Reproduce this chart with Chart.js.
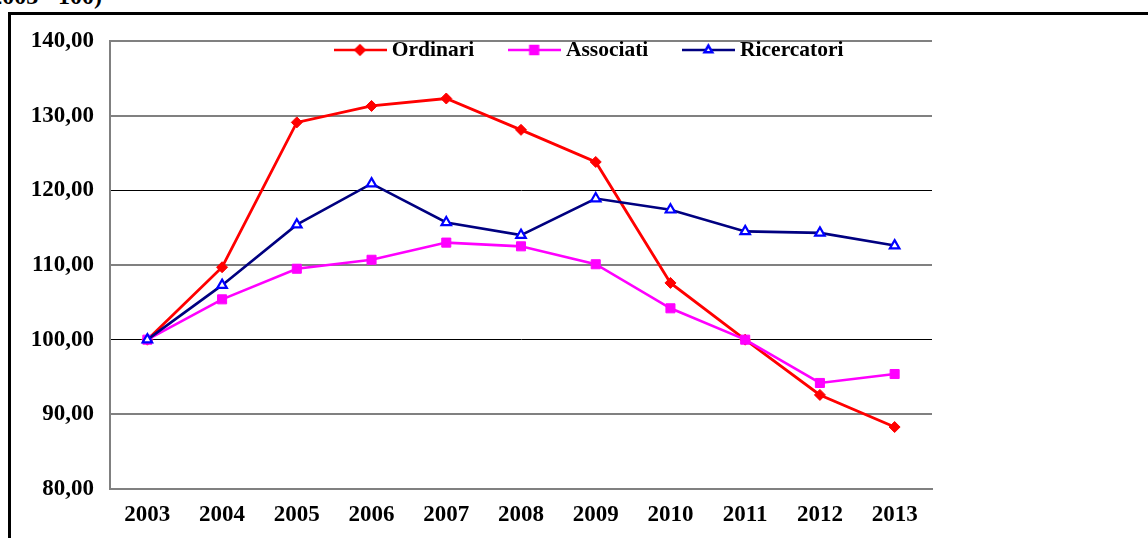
<!DOCTYPE html>
<html>
<head>
<meta charset="utf-8">
<script src="https://cdn.jsdelivr.net/npm/chart.js@4/dist/chart.umd.min.js"></script>
<style>
  html, body { margin: 0; padding: 0; background: #fff; width: 1148px; height: 538px; overflow: hidden; }
  #frame { position: absolute; left: 8px; top: 12px; width: 1200px; height: 600px;
           border-left: 3px solid #000; border-top: 3px solid #000; box-sizing: border-box; }
  #note { position: absolute; right: calc(1148px - 102px); top: -16px; white-space: nowrap;
          font: bold 24px "Liberation Serif", "Times New Roman", serif; color: #000; line-height: 24px; }
  #wrap { position: absolute; left: 0; top: 0; width: 1148px; height: 538px; }
</style>
</head>
<body>
<div id="frame"></div>
<div id="note">(2003= 100)</div>
<div id="wrap"><canvas id="c" width="1148" height="538"></canvas></div>
<script>
const years = ['2003','2004','2005','2006','2007','2008','2009','2010','2011','2012','2013'];
const ordinari    = [100, 109.7, 129.1, 131.3, 132.3, 128.1, 123.8, 107.6, 100, 92.6, 88.3];
const associati   = [100, 105.4, 109.5, 110.7, 113.0, 112.5, 110.1, 104.2, 100, 94.2, 95.4];
const ricercatori = [100, 107.3, 115.4, 120.9, 115.7, 114.0, 118.9, 117.4, 114.5, 114.3, 112.6];
const seriesNames = ['Ordinari', 'Associati', 'Ricercatori'];
const yTicksMin = 80, yTicksMax = 140, yStep = 10;

const FONT = '"Liberation Serif", "Times New Roman", serif';

function legendIcon(lineColor, style, markerFill, markerStroke, radius) {
  const cv = document.createElement('canvas');
  cv.width = 53; cv.height = 14;
  const ctx = cv.getContext('2d');
  ctx.strokeStyle = lineColor; ctx.lineWidth = 2.5;
  ctx.beginPath(); ctx.moveTo(0, 7); ctx.lineTo(53, 7); ctx.stroke();
  ctx.fillStyle = markerFill; ctx.strokeStyle = markerStroke;
  Chart.helpers.drawPoint(ctx, { pointStyle: style, radius: radius, rotation: 0, borderWidth: 2 }, 26.5, 7);
  return cv;
}

const icons = [
  legendIcon('#FF0000', 'rectRot', '#FF0000', '#FF0000', 4.5),
  legendIcon('#FF00FF', 'rect', '#FF00FF', '#FF00FF', 5.5),
  legendIcon('#000080', 'triangle', '#FFFFFF', '#0000FF', 4.5)
];

const LEG_X = 339, LEG_Y = 50;

const legendPlace = {
  id: 'legendPlace',
  beforeUpdate(chart) {
    const lg = chart.legend;
    if (!lg || lg._placed) return;
    lg._placed = true;
    const fit = lg.fit;
    lg.fit = function () { fit.call(this); this.height = 0; };
    lg.draw = function () {
      if (!this.options.display) return;
      const ctx = this.ctx;
      const pad = this.options.labels.padding;
      const fs = this.options.labels.font.size;
      ctx.save();
      ctx.translate(LEG_X - (this.left + pad), LEG_Y - (this.top + pad + fs / 2));
      this._draw();
      ctx.restore();
    };
  }
};

new Chart(document.getElementById('c'), {
  type: 'line',
  data: {
    labels: years,
    datasets: [
      { label: seriesNames[0], data: ordinari, order: 2,
        borderColor: '#FF0000', backgroundColor: '#FF0000', borderWidth: 2.8,
        pointStyle: 'rectRot', pointRadius: 5.5, pointBorderWidth: 1,
        pointBackgroundColor: '#FF0000', pointBorderColor: '#FF0000', tension: 0 },
      { label: seriesNames[1], data: associati, order: 1,
        borderColor: '#FF00FF', backgroundColor: '#FF00FF', borderWidth: 2.6,
        pointStyle: 'rect', pointRadius: 6.4, pointBorderWidth: 1,
        pointBackgroundColor: '#FF00FF', pointBorderColor: '#FF00FF', tension: 0 },
      { label: seriesNames[2], data: ricercatori, order: 0,
        borderColor: '#000080', backgroundColor: '#000080', borderWidth: 2.6,
        pointStyle: 'triangle', pointRadius: 5.5, pointBorderWidth: 2.2,
        pointBackgroundColor: '#FFFFFF', pointBorderColor: '#0000FF', tension: 0 }
    ]
  },
  options: {
    responsive: false,
    animation: false,
    devicePixelRatio: 1,
    layout: { padding: { top: 41, right: 216, bottom: 0, left: 0 } },
    plugins: {
      tooltip: { enabled: false },
      title: { display: false },
      legend: {
        display: true,
        position: 'top',
        align: 'start',
        labels: {
          usePointStyle: true,
          pointStyleWidth: 42,
          boxHeight: 14,
          padding: 39,
          color: '#000',
          font: { family: FONT, size: 21.5, weight: 'bold' },
          generateLabels(chart) {
            return chart.data.datasets.map((ds, i) => ({
              text: ds.label,
              pointStyle: icons[i],
              fillStyle: ds.borderColor,
              strokeStyle: ds.borderColor,
              lineWidth: 0,
              hidden: false,
              datasetIndex: i
            }));
          }
        }
      }
    },
    scales: {
      x: {
        offset: true,
        grid: { display: false, drawTicks: false },
        border: { display: true, color: '#808080', width: 2 },
        ticks: { color: '#000', padding: 12, maxRotation: 0,
                 font: { family: FONT, size: 23, weight: 'bold' } },
        afterFit(scale) { scale.height = 49; }
      },
      y: {
        min: yTicksMin, max: yTicksMax,
        grid: {
          drawTicks: false,
          color: (ctx) => (ctx.tick && (ctx.tick.value === 120 || ctx.tick.value === 100)) ? '#000000' : '#808080',
          lineWidth: (ctx) => (ctx.tick && (ctx.tick.value === 120 || ctx.tick.value === 100)) ? 1 : 2
        },
        border: { display: true, color: '#808080', width: 2 },
        ticks: {
          stepSize: yStep, color: '#000', padding: 16,
          font: { family: FONT, size: 23, weight: 'bold' },
          callback: (v) => Number(v).toFixed(2).replace('.', ',')
        },
        afterFit(scale) { scale.width = 110; }
      }
    }
  },
  plugins: [legendPlace]
});
</script>
</body>
</html>
